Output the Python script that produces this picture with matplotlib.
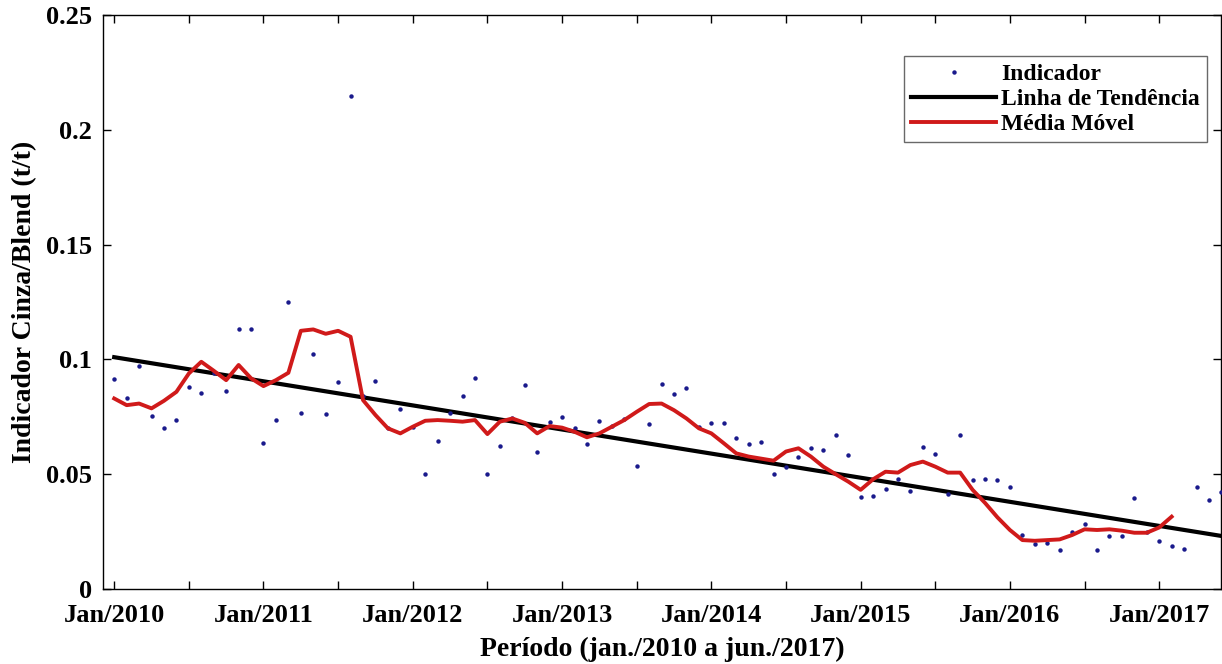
import matplotlib
matplotlib.use("Agg")
import matplotlib.pyplot as plt
import numpy as np

# Monthly indicator values, Jan/2010 (index 0) .. Jun/2017 (index 89)
indicador = [
    0.0913, 0.0833, 0.0971, 0.0752, 0.0700, 0.0736, 0.0878, 0.0852, 0.0940, 0.0864,
    0.1132, 0.1135, 0.0637, 0.0736, 0.1249, 0.0768, 0.1024, 0.0761, 0.0903, 0.2149,
    0.0840, 0.0907, 0.0700, 0.0784, 0.0707, 0.0502, 0.0645, 0.0765, 0.0842, 0.0920,
    0.0499, 0.0624, 0.0746, 0.0891, 0.0595, 0.0729, 0.0748, 0.0700, 0.0632, 0.0733,
    0.0710, 0.0740, 0.0536, 0.0719, 0.0894, 0.0851, 0.0877, 0.0707, 0.0722, 0.0722,
    0.0659, 0.0632, 0.0639, 0.0502, 0.0533, 0.0576, 0.0616, 0.0607, 0.0672, 0.0585,
    0.0402, 0.0406, 0.0437, 0.0480, 0.0427, 0.0618, 0.0588, 0.0412, 0.0671, 0.0473,
    0.0480, 0.0475, 0.0444, 0.0234, 0.0195, 0.0199, 0.0170, 0.0247, 0.0282, 0.0170,
    0.0229, 0.0232, 0.0396, 0.0250, 0.0211, 0.0186, 0.0174, 0.0444, 0.0386, 0.0424,
]

# Moving average (index 0 .. 85)
media_movel = [
    0.0830, 0.0801, 0.0808, 0.0787, 0.0820, 0.0859, 0.0939, 0.0990, 0.0951, 0.0910,
    0.0976, 0.0918, 0.0884, 0.0910, 0.0942, 0.1125, 0.1131, 0.1112, 0.1125, 0.1099,
    0.0823, 0.0758, 0.0700, 0.0678, 0.0707, 0.0733, 0.0736, 0.0733, 0.0729, 0.0736,
    0.0675, 0.0729, 0.0743, 0.0724, 0.0678, 0.0710, 0.0703, 0.0685, 0.0661, 0.0678,
    0.0707, 0.0736, 0.0772, 0.0806, 0.0808, 0.0779, 0.0743, 0.0700, 0.0678, 0.0635,
    0.0591, 0.0577, 0.0568, 0.0559, 0.0599, 0.0613, 0.0577, 0.0533, 0.0500, 0.0468,
    0.0432, 0.0478, 0.0511, 0.0507, 0.0540, 0.0555, 0.0533, 0.0507, 0.0507, 0.0432,
    0.0375, 0.0312, 0.0257, 0.0213, 0.0210, 0.0213, 0.0216, 0.0235, 0.0260, 0.0257,
    0.0260, 0.0254, 0.0245, 0.0245, 0.0268, 0.0315,
]

# Trend line end values (index 0 and index 89)
tendencia = [0.1010, 0.0231]
tendencia_idx = [0, 89]

xtick_labels = ["Jan/2010", "", "Jan/2011", "", "Jan/2012", "", "Jan/2013", "",
                "Jan/2014", "", "Jan/2015", "", "Jan/2016", "", "Jan/2017"]
ytick_vals = [0, 0.05, 0.1, 0.15, 0.2, 0.25]
ytick_labels = ["0", "0.05", "0.1", "0.15", "0.2", "0.25"]

plt.rcParams['font.family'] = ['Liberation Serif', 'DejaVu Serif']
plt.rcParams['font.weight'] = 'bold'

fig = plt.figure(figsize=(12.22, 6.64), dpi=100)
ax = fig.add_axes([0.0843, 0.113, 0.9147, 0.864])

t_ind = np.arange(len(indicador))
t_mm = np.arange(len(media_movel))

ax.plot(t_ind, indicador, linestyle='none', marker='o', markersize=3.2,
        markeredgewidth=0, color='#1a1a8c', label='Indicador', zorder=3)
ax.plot(tendencia_idx, tendencia, color='black', linewidth=3.0,
        label='Linha de Tendência', zorder=2)
ax.plot(t_mm, media_movel, color='#d01a1a', linewidth=2.8,
        label='Média Móvel', zorder=4)

ax.set_xlim(-0.9, 88.95)
ax.set_ylim(0, 0.25)

ax.set_xticks(np.arange(0, 6 * len(xtick_labels), 6))
ax.set_xticklabels(xtick_labels)
ax.set_yticks(ytick_vals)
ax.set_yticklabels(ytick_labels)

ax.tick_params(direction='in', length=6, width=1.0, top=True, right=True,
               labelsize=19)
ax.tick_params(axis='x', pad=11)
ax.tick_params(axis='y', pad=8)
for lab in ax.get_xticklabels() + ax.get_yticklabels():
    lab.set_fontweight('bold')
for s in ax.spines.values():
    s.set_linewidth(1.0)

ax.set_xlabel('Período (jan./2010 a jun./2017)', fontsize=20, fontweight='bold', labelpad=7)
ax.set_ylabel('Indicador Cinza/Blend (t/t)', fontsize=20, fontweight='bold', labelpad=6)

leg = ax.legend(loc='upper right', bbox_to_anchor=(0.9875, 0.9286), fontsize=17,
                frameon=True, fancybox=False, edgecolor='#444444',
                handlelength=3.6, handletextpad=0.2, borderpad=0.3,
                labelspacing=0.15, borderaxespad=0.0)
leg.get_frame().set_linewidth(1.0)
for txt in leg.get_texts():
    txt.set_fontweight('bold')

fig.savefig('out.png', dpi=100)
